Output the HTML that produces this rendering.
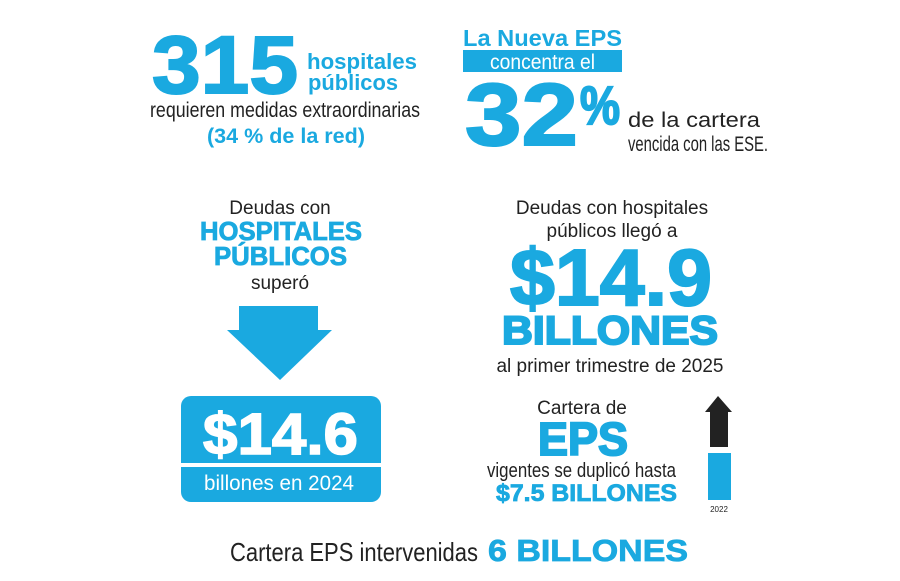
<!DOCTYPE html>
<html><head><meta charset="utf-8"><style>
html,body{margin:0;padding:0;background:#fff}
svg{display:block}
text{font-family:"Liberation Sans",sans-serif}
.b{font-weight:bold;fill:#1aa9e0}
.k{stroke:#1aa9e0;stroke-width:2}
.n{fill:#222}
</style></head><body>
<svg width="900" height="581" viewBox="0 0 900 581" xmlns="http://www.w3.org/2000/svg">
<rect width="900" height="581" fill="#fff"/>
<!-- 315 -->
<text x="152" y="93" class="b k" font-size="82" textLength="146" lengthAdjust="spacingAndGlyphs">315</text>
<text x="307" y="69" class="b" font-size="22" textLength="110" lengthAdjust="spacingAndGlyphs">hospitales</text>
<text x="308" y="90" class="b" font-size="22" textLength="90" lengthAdjust="spacingAndGlyphs">públicos</text>
<text x="150" y="117" class="n" font-size="21" textLength="270" lengthAdjust="spacingAndGlyphs">requieren medidas extraordinarias</text>
<text x="207" y="143" class="b" font-size="21" textLength="158" lengthAdjust="spacingAndGlyphs">(34 % de la red)</text>
<!-- 32% -->
<text x="463" y="46" class="b" font-size="23" textLength="159" lengthAdjust="spacingAndGlyphs">La Nueva EPS</text>
<rect x="463" y="50" width="159" height="22" fill="#1aa9e0"/>
<text x="490" y="69" fill="#fff" font-size="21" textLength="105" lengthAdjust="spacingAndGlyphs">concentra el</text>
<text x="465" y="145" class="b k" font-size="88" textLength="113" lengthAdjust="spacingAndGlyphs">32</text>
<text x="580" y="124" class="b k" font-size="54" stroke-width="1.5" textLength="40" lengthAdjust="spacingAndGlyphs">%</text>
<text x="628" y="127" class="n" font-size="21" textLength="132" lengthAdjust="spacingAndGlyphs">de la cartera</text>
<text x="628" y="151" class="n" font-size="21" textLength="140" lengthAdjust="spacingAndGlyphs">vencida con las ESE.</text>
<!-- left middle -->
<text x="280" y="214" class="n" font-size="19" text-anchor="middle">Deudas con</text>
<text x="200" y="240" class="b" font-size="26" stroke="#1aa9e0" stroke-width="0.8" textLength="162" lengthAdjust="spacingAndGlyphs">HOSPITALES</text>
<text x="214" y="265" class="b" font-size="26" stroke="#1aa9e0" stroke-width="0.8" textLength="133" lengthAdjust="spacingAndGlyphs">PÚBLICOS</text>
<text x="280" y="289" class="n" font-size="19" text-anchor="middle">superó</text>
<polygon points="239,306 318,306 318,330 332,330 280,380 227,330 239,330" fill="#1aa9e0"/>
<rect x="181" y="396" width="200" height="106" rx="10" fill="#1aa9e0"/>
<rect x="181" y="463" width="200" height="4" fill="#fff"/>
<text x="203" y="454" fill="#fff" stroke="#fff" stroke-width="1.5" font-weight="bold" font-size="58" textLength="155" lengthAdjust="spacingAndGlyphs">$14.6</text>
<text x="204" y="490" fill="#fff" font-size="21" textLength="150" lengthAdjust="spacingAndGlyphs">billones en 2024</text>
<!-- right middle -->
<text x="612" y="214" class="n" font-size="19" text-anchor="middle">Deudas con hospitales</text>
<text x="612" y="237" class="n" font-size="19" text-anchor="middle">públicos llegó a</text>
<text x="510" y="305" class="b k" font-size="80" textLength="202" lengthAdjust="spacingAndGlyphs">$14.9</text>
<text x="502" y="344" class="b k" font-size="40" stroke-width="1.2" textLength="216" lengthAdjust="spacingAndGlyphs">BILLONES</text>
<text x="610" y="372" class="n" font-size="19" text-anchor="middle">al primer trimestre de 2025</text>
<text x="582" y="414" class="n" font-size="19" text-anchor="middle">Cartera de</text>
<text x="538" y="455" class="b k" font-size="46" stroke-width="1.2" textLength="90" lengthAdjust="spacingAndGlyphs">EPS</text>
<text x="487" y="477" class="n" font-size="20" textLength="189" lengthAdjust="spacingAndGlyphs">vigentes se duplicó hasta</text>
<text x="496" y="501" class="b" font-size="24" stroke="#1aa9e0" stroke-width="0.8" textLength="181" lengthAdjust="spacingAndGlyphs">$7.5 BILLONES</text>
<polygon points="718,396 732,412 728,412 728,447 710,447 710,412 705,412" fill="#222"/>
<rect x="708" y="453" width="23" height="47" fill="#1aa9e0"/>
<text x="719" y="512" class="n" font-size="8" text-anchor="middle">2022</text>
<!-- bottom -->
<text x="230" y="561" class="n" font-size="26" textLength="248" lengthAdjust="spacingAndGlyphs">Cartera EPS intervenidas</text>
<text x="488" y="561" class="b" font-size="31" stroke="#1aa9e0" stroke-width="0.8" textLength="200" lengthAdjust="spacingAndGlyphs">6 BILLONES</text>
</svg>
</body></html>
